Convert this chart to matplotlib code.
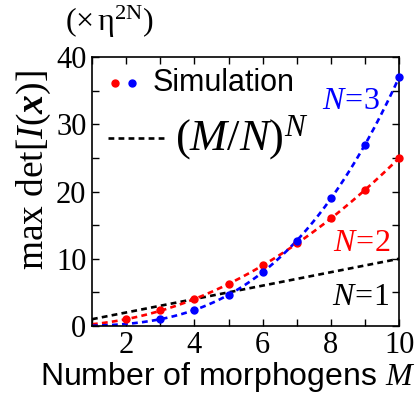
import numpy as np
import matplotlib
matplotlib.use("Agg")
import matplotlib.pyplot as plt
from matplotlib.lines import Line2D

plt.rcParams['mathtext.fontset'] = 'custom'
plt.rcParams['mathtext.rm'] = 'Liberation Serif'
plt.rcParams['mathtext.it'] = 'Liberation Serif:italic'
plt.rcParams['mathtext.bf'] = 'Liberation Serif:bold'
plt.rcParams['mathtext.bfit'] = 'Liberation Serif:bold:italic'

# simulation points
m_n2 = [2, 3, 4, 5, 6, 7, 8, 9, 10]
sim_n2 = [1.0, 2.3, 4.0, 6.3, 9.0, 12.3, 16.0, 20.3, 25.0]
m_n3 = [3, 4, 5, 6, 7, 8, 9, 10]
sim_n3 = [1.0, 2.4, 4.6, 8.0, 12.7, 19.0, 27.0, 37.0]

# theory curves (M/N)^N
n_values = [1, 2, 3]
n_colors = ['black', 'red', 'blue']
m_range = (1, 10)

DASH = (0, (2.2, 1.6))

fig = plt.figure(figsize=(4.18, 3.97), dpi=100)
ax = fig.add_axes([0.220, 0.179, 0.735, 0.677])

mm = np.linspace(m_range[0], m_range[1], 200)
for n, c in zip(n_values, n_colors):
    ax.plot(mm, (mm / n) ** n, color=c, lw=1.9, ls=DASH, zorder=2)

ax.plot(m_n2, sim_n2, 'o', color='red', ms=5, zorder=3, clip_on=False)
ax.plot(m_n3, sim_n3, 'o', color='blue', ms=5, zorder=3, clip_on=False)

ax.set_xlim(1, 10)
ax.set_ylim(0, 40)
ax.set_xticks([2, 4, 6, 8, 10])
ax.set_xticks(range(1, 11), minor=True)
ax.set_yticks([0, 10, 20, 30, 40])
ax.set_yticks(range(0, 41, 5), minor=True)
ax.tick_params(which='both', direction='in', top=True, right=True, width=1.0)
ax.tick_params(which='major', length=5, labelsize=22, pad=4)
ax.tick_params(which='minor', length=5)
for lab in ax.get_xticklabels() + ax.get_yticklabels():
    lab.set_fontfamily('Liberation Serif')
for sp in ax.spines.values():
    sp.set_linewidth(1.2)

ax.set_xlabel(r'Number of morphogens $\mathit{M}$', fontsize=23,
              fontfamily='Liberation Sans', labelpad=0, x=0.44)
ax.set_ylabel(r'$\mathrm{max\ det}[I(\mathbfit{x})]$', fontsize=27,
              labelpad=2, y=0.58)

fig.text(0.155, 0.945, r'$(\times\,\mathrm{η}^{\mathrm{2N}})$', fontsize=23,
         ha='left', va='center')

# hand made legend
ax.plot(0.075, 0.903, 'o', color='red', ms=5, transform=ax.transAxes)
ax.plot(0.13, 0.903, 'o', color='blue', ms=5, transform=ax.transAxes)
ax.text(0.196, 0.903, 'Simulation', transform=ax.transAxes, fontsize=22,
        fontfamily='Liberation Sans', va='center', ha='left')
ax.add_line(Line2D([0.052, 0.238], [0.70, 0.70], transform=ax.transAxes,
                   color='black', lw=1.9, ls=DASH))
ax.text(0.27, 0.70, r'$(M/N)^{N}$', transform=ax.transAxes, fontsize=32,
        va='center', ha='left')

ax.text(0.75, 0.84, r'$N\!=\!3$', transform=ax.transAxes, fontsize=23,
        color='blue', va='center')
ax.text(0.785, 0.312, r'$N\!=\!2$', transform=ax.transAxes, fontsize=23,
        color='red', va='center')
ax.text(0.78, 0.11, r'$N\!=\!1$', transform=ax.transAxes, fontsize=23,
        color='black', va='center')

fig.savefig('out.png', dpi=100)
